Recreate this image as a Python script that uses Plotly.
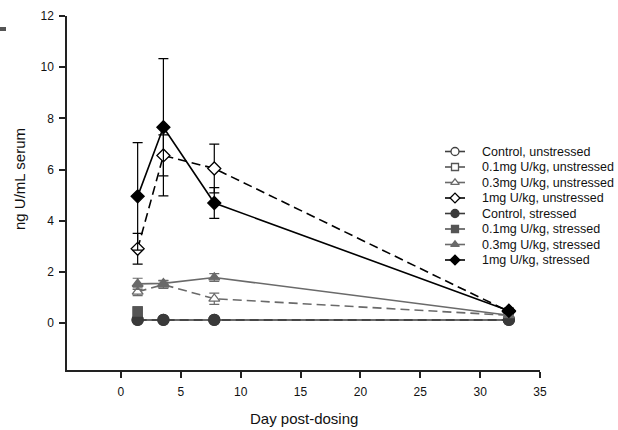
import plotly.graph_objects as go

# ---- Data ----
days = [1.4, 3.55, 7.8, 32.4]
day1_only = [1.4]

ctrl_unstr = [0.12, 0.12, 0.12, 0.12]
p1_unstr = [0.45]
p3_unstr = [1.22, 1.5, 0.95, 0.3]
p3_unstr_err = [0.15, 0.15, 0.22, 0.05]
m1_unstr = [2.9, 6.55, 6.04, 0.45]
m1_unstr_err = [0.6, 0.8, 0.95, 0.1]

ctrl_str = [0.12, 0.12, 0.12, 0.12]
p1_str = [0.45]
p3_str = [1.53, 1.55, 1.78, 0.3]
p3_str_err = [0.22, 0.12, 0.15, 0.05]
m1_str = [4.95, 7.65, 4.69, 0.48]
m1_str_err = [2.1, 2.68, 0.6, 0.1]

names = ["Control, unstressed", "0.1mg U/kg, unstressed", "0.3mg U/kg, unstressed",
         "1mg U/kg, unstressed", "Control, stressed", "0.1mg U/kg, stressed",
         "0.3mg U/kg, stressed", "1mg U/kg, stressed"]

x_ticks = [0, 5, 10, 15, 20, 25, 30, 35]
y_ticks = [0, 2, 4, 6, 8, 10, 12]

# ---- Layout constants (pixels) ----
W, H = 618, 430
L, R, T, B = 67, 78, 16, 60
PW, PH = W - L - R, H - T - B
DASH = "9px,5px"
TXT = "#111111"

fig = go.Figure()

styles = [
    # symbol, size, legend size, color, filled, dash
    ("circle", 11, 8, "#404040", False, DASH),
    ("square", 9, 7, "#555555", False, DASH),
    ("triangle-up", 9.5, 7.5, "#6a6a6a", False, DASH),
    ("diamond", 10, 7.5, "#000000", False, DASH),
    ("circle", 11, 8, "#3a3a3a", True, "solid"),
    ("square", 9, 7, "#555555", True, "solid"),
    ("triangle-up", 9.5, 7.5, "#6a6a6a", True, "solid"),
    ("diamond", 10, 7.5, "#000000", True, "solid"),
]
series = [
    (days, ctrl_unstr, None), (day1_only, p1_unstr, None),
    (days, p3_unstr, p3_unstr_err), (days, m1_unstr, m1_unstr_err),
    (days, ctrl_str, None), (day1_only, p1_str, None),
    (days, p3_str, p3_str_err), (days, m1_str, m1_str_err),
]

for name, (x, y, err), (sym, size, lsize, color, filled, dash) in zip(names, series, styles):
    fig.add_trace(go.Scatter(
        x=x, y=y, name=name, mode="lines+markers", showlegend=False,
        line=dict(color=color, width=1.6, dash=dash),
        marker=dict(symbol=sym, size=size,
                    color=color if filled else "white",
                    line=dict(color=color, width=1.3)),
        error_y=dict(type="data", array=err, visible=err is not None,
                     color=color, thickness=1.2, width=5),
    ))

# ---- Custom legend drawn on a pixel-coordinate overlay axis ----
leg_x0, leg_x1, leg_text_x = 445, 465, 480
leg_y0, leg_dy = 151.5, 15.5
annotations = []
for i, (name, (sym, size, lsize, color, filled, dash)) in enumerate(zip(names, styles)):
    yy = leg_y0 + i * leg_dy
    fig.add_trace(go.Scatter(
        x=[leg_x0, leg_x1], y=[yy, yy], xaxis="x2", yaxis="y2",
        mode="lines", showlegend=False, hoverinfo="skip",
        line=dict(color=color, width=1.6),
    ))
    fig.add_trace(go.Scatter(
        x=[(leg_x0 + leg_x1) / 2], y=[yy], xaxis="x2", yaxis="y2",
        mode="markers", showlegend=False, hoverinfo="skip",
        marker=dict(symbol=sym, size=lsize, color=color if filled else "white",
                    line=dict(color=color, width=1.3)),
    ))
    annotations.append(dict(x=leg_text_x, y=yy, xref="x2", yref="y2", text=name,
                            showarrow=False, xanchor="left", yanchor="middle",
                            font=dict(size=12.5, color=TXT)))

annotations.append(dict(text="Day post-dosing", x=0.5, y=-(418 - (H - B)) / PH,
                        xref="paper", yref="paper", showarrow=False,
                        xanchor="center", yanchor="middle", font=dict(size=15, color=TXT)))
annotations.append(dict(text="ng U/mL serum", x=-(L - 19) / PW, y=(H - B - 179) / PH,
                        xref="paper", yref="paper", showarrow=False, textangle=-90,
                        xanchor="center", yanchor="middle", font=dict(size=15, color=TXT)))

axis_common = dict(showgrid=False, zeroline=False, showline=True, linecolor="#222222",
                   linewidth=1.5, ticks="outside", ticklen=6, tickcolor="#222222",
                   tickwidth=1.5, automargin=False,
                   tickfont=dict(size=12, color=TXT))

y0_px = 323
ymin = -((H - B) - y0_px) / ((y0_px - T) / 12)

fig.update_layout(
    width=W, height=H,
    margin=dict(l=L, r=R, t=T, b=B, autoexpand=False),
    plot_bgcolor="white", paper_bgcolor="white",
    font=dict(family="Liberation Sans, Arial, sans-serif", size=12, color=TXT),
    showlegend=False,
    xaxis=dict(range=[-4.5, 35], tickvals=x_ticks, ticklabelstandoff=4, **axis_common),
    yaxis=dict(range=[ymin, 12], tickvals=y_ticks, ticklabelstandoff=3, **axis_common),
    xaxis2=dict(range=[L, W - R], overlaying="x", anchor="y2", visible=False),
    yaxis2=dict(range=[H - B, T], overlaying="y", anchor="x2", visible=False),
    annotations=annotations,
    shapes=[dict(type="rect", xref="paper", yref="paper",
                 x0=-L / PW, x1=-(L - 6) / PW,
                 y0=(H - B - 31) / PH, y1=(H - B - 27) / PH,
                 fillcolor="#555555", line=dict(width=0))],
)

fig.write_html(
    "out.html",
    config={"displayModeBar": False},
    post_script="document.body.style.margin='0';document.body.style.overflow='hidden';",
)
